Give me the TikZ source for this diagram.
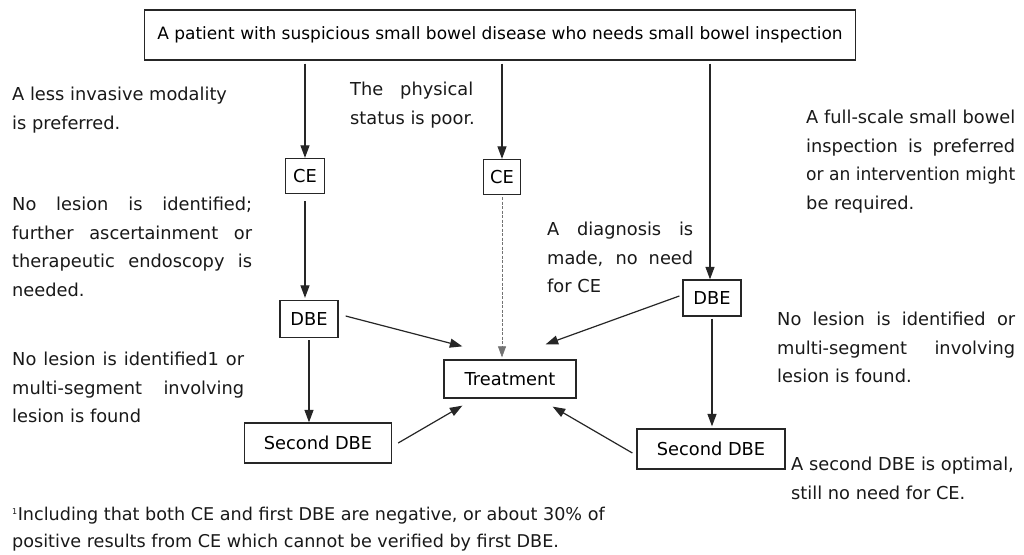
\documentclass[tikz,border=0pt]{standalone}
\usepackage{graphicx}
\usepackage{fontspec}
\setmainfont{DejaVu Sans}
\usetikzlibrary{arrows.meta,calc}
\newlength\jlw
\newcommand{\jl}[2]{\settowidth\jlw{#2}\ifdim\jlw>#1pt\resizebox{#1pt}{\height}{#2}\else\makebox[#1pt][s]{#2}\fi}
\begin{document}
\begin{tikzpicture}[x=1pt,y=-1pt,
  every node/.style={font=\fontsize{17.8}{28.5}\selectfont},
  box/.style={draw=black!85,line width=1.3pt,inner sep=0pt,minimum height=#1},
  box/.default=37pt,
  lbl/.style={anchor=north west,inner sep=0pt,align=left,text=black!90},
  arr/.style={draw=black!85,line width=1.2pt,-{Triangle[length=12.5pt,width=9pt]}},
  darr/.style={draw=black!55,line width=0.6pt,dashed,dash pattern=on 3pt off 1.5pt,-{Triangle[length=11pt,width=8pt]}}
]
\useasboundingbox[fill=white] (0,0) rectangle (1024,554);
% boxes
\node[box=50pt,minimum width=711pt,font=\fontsize{17}{20}\selectfont] (top) at (500,35) {A patient with suspicious small bowel disease who needs small bowel inspection};
\node[box=35pt,minimum width=39pt] (ce1) at (305,176) {CE};
\node[box=35pt,minimum width=37pt] (ce2) at (502,177) {CE};
\node[box=37pt,minimum width=58pt] (dbe1) at (309,319) {DBE};
\node[box=36pt,minimum width=58pt] (dbe2) at (712,298) {DBE};
\node[box=38pt,minimum width=132pt] (treat) at (510,379) {Treatment};
\node[box=40pt,minimum width=147pt] (sdbe1) at (318,443) {Second DBE};
\node[box=40pt,minimum width=148pt] (sdbe2) at (711,449) {Second DBE};
% arrows
\draw[arr,shorten <=3pt] (top.south -| ce1) -- (ce1.north);
\draw[arr,shorten <=3pt] (top.south -| ce2) -- (ce2.north);
\draw[arr,shorten <=3pt] ($(top.south -| dbe2)+(-2,0)$) -- ($(dbe2.north)+(-2,0)$);
\draw[arr,shorten <=7pt,shorten >=2pt] (ce1.south) -- (ce1.south |- dbe1.north);
\draw[darr,shorten <=2pt,shorten >=2pt] (ce2.south) -- (ce2.south |- treat.north);
\draw[arr,shorten <=2pt] (dbe1.south) -- (dbe1.south |- sdbe1.north);
\draw[arr,shorten <=2pt,shorten >=2pt] (dbe2.south) -- (dbe2.south |- sdbe2.north);
\draw[arr] ($(dbe1.east)+(7,-3)$) -- ($(treat.north west)+(19,-13)$);
\draw[arr] ($(sdbe1.east)+(6,0)$) -- ($(treat.south west)+(19,7)$);
\draw[arr] ($(dbe2.west)+(-3,-2)$) -- ($(treat.north east)+(-31,-15)$);
\draw[arr] ($(sdbe2.west)+(-4,4)$) -- ($(treat.south east)+(-24,8)$);
% labels
\node[lbl] (l1) at (12,87) {A less invasive modality\\is preferred.};
\node[lbl] (l2) at (350,82) {\jl{123}{The physical}\\status is poor.};
\node[lbl] (l3) at (12,197) {\jl{240}{No lesion is identified;}\\\jl{240}{further ascertainment or}\\\jl{240}{therapeutic endoscopy is}\\needed.};
\node[lbl] (l4) at (12,352) {\jl{232}{No lesion is identified1 or}\\\jl{232}{multi-segment involving}\\lesion is found};
\node[lbl] (l5) at (547,222) {\jl{146}{A diagnosis is}\\\jl{146}{made, no need}\\for CE};
\node[lbl] (l6) at (806,110) {\jl{209}{A full-scale small bowel}\\\jl{209}{inspection is preferred}\\\jl{209}{or an intervention might}\\be required.};
\node[lbl] (l7) at (777,312) {\jl{238}{No lesion is identified or}\\\jl{238}{multi-segment involving}\\lesion is found.};
\node[lbl] (l8) at (791,457) {A second DBE is optimal,\\still no need for CE.};
\node[lbl,font=\fontsize{17.6}{26.5}\selectfont] (fn) at (12,507) {\textsuperscript{\fontsize{8}{8}\selectfont 1}Including that both CE and first DBE are negative, or about 30\% of\\positive results from CE which cannot be verified by first DBE.};
\end{tikzpicture}
\end{document}
